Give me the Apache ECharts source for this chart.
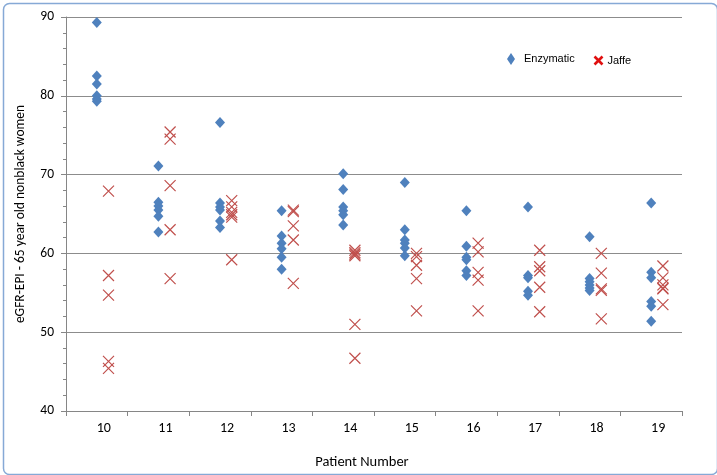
<!DOCTYPE html>
<html>
<head>
<meta charset="utf-8">
<script src="https://cdn.jsdelivr.net/npm/echarts@6/dist/echarts.min.js"></script>
<style>html,body{margin:0;padding:0;background:#fff;}#c{width:717px;height:475px;}</style>
</head>
<body>
<div id="c"></div>
<script>
const patients = ['10','11','12','13','14','15','16','17','18','19'];
const yTicks = [40, 50, 60, 70, 80, 90];
const enzymatic = [
  [89.3, 82.5, 81.5, 80.0, 79.6, 79.3],
  [71.1, 66.5, 66.0, 65.5, 64.7, 62.7],
  [76.6, 66.4, 65.9, 65.5, 64.1, 63.3],
  [65.4, 62.2, 61.3, 60.6, 59.5, 58.0],
  [70.1, 68.1, 65.9, 65.4, 64.9, 63.6],
  [69.0, 63.0, 61.7, 61.3, 60.7, 59.7],
  [65.4, 60.9, 59.5, 59.2, 57.8, 57.2],
  [65.9, 57.2, 56.9, 55.2, 54.7],
  [62.1, 56.8, 56.4, 56.0, 55.6, 55.3],
  [66.4, 57.6, 56.9, 53.9, 53.3, 51.4]
];
const jaffe = [
  [67.9, 57.2, 54.7, 46.3, 45.4],
  [75.4, 74.5, 68.6, 63.0, 56.8],
  [66.7, 65.9, 65.2, 64.9, 64.6, 59.2],
  [65.5, 65.3, 63.5, 61.7, 56.2],
  [60.4, 60.1, 59.9, 59.7, 51.0, 46.7],
  [60.0, 59.6, 58.5, 56.8, 52.7],
  [61.3, 60.2, 57.6, 56.6, 52.7],
  [60.4, 58.3, 57.8, 55.7, 52.6],
  [60.0, 57.5, 55.5, 55.3, 51.7],
  [58.4, 56.9, 56.0, 55.6, 55.5, 53.5]
];

const JAFFE_SHIFT = 0.19;
const enzData = enzymatic.flatMap((vals, i) => vals.map(v => [Number(patients[i]), v]));
const jafData = jaffe.flatMap((vals, i) => vals.map(v => [Number(patients[i]) + JAFFE_SHIFT, v]));
const xPath = 'path://M0,0L10,10M10,0L0,10';
const font = "Carlito, 'Liberation Sans', Arial, sans-serif";
const legendFont = {fontFamily: "'Liberation Sans', Arial, sans-serif", fontSize: 11, color: '#000'};

const chart = echarts.init(document.getElementById('c'), null, {renderer: 'canvas'});
chart.setOption({
  animation: false,
  backgroundColor: '#fff',
  textStyle: {fontFamily: font},
  graphic: [{
    type: 'rect', left: 1, top: 1, z: -10,
    shape: {width: 714, height: 471, r: 6},
    style: {fill: 'none', stroke: '#86A9D6', lineWidth: 1.5}
  }],
  grid: {left: 66, right: 35, top: 17, bottom: 62, containLabel: false},
  legend: [{
    left: 507, top: 53, padding: 0, itemWidth: 8, itemHeight: 12,
    textStyle: Object.assign({padding: [0, 0, 0, 4]}, legendFont),
    data: [{name: 'Enzymatic', icon: 'diamond'}]
  }, {
    left: 592, top: 54, padding: 0, itemWidth: 8, itemHeight: 10,
    textStyle: legendFont,
    data: [{name: 'Jaffe', icon: xPath, itemStyle: {color: 'none', borderColor: '#E01010', borderWidth: 2.6}}]
  }],
  xAxis: [{
    type: 'category', data: patients, boundaryGap: true,
    name: 'Patient Number', nameLocation: 'middle', nameGap: 44,
    nameTextStyle: {fontSize: 14.5, color: '#000', fontFamily: font, padding: [0, 24, 0, 0]},
    axisLine: {lineStyle: {color: '#868686', width: 1}},
    axisTick: {show: true, length: 5, alignWithLabel: false, lineStyle: {color: '#868686'}},
    axisLabel: {fontSize: 14, color: '#000', margin: 10, padding: [0, 0, 0, 14]},
    splitLine: {show: false}
  }, {
    type: 'value', min: 9.5, max: 19.5, show: false
  }],
  yAxis: {
    type: 'value', min: yTicks[0], max: yTicks[yTicks.length - 1], interval: 10,
    name: 'eGFR-EPI - 65 year old nonblack women', nameLocation: 'middle', nameGap: 38,
    nameTextStyle: {fontSize: 13.5, color: '#000', fontFamily: font},
    axisLine: {show: true, lineStyle: {color: '#868686', width: 1}},
    axisTick: {show: true, length: 5, lineStyle: {color: '#868686'}},
    minorTick: {show: true, splitNumber: 5, length: 3, lineStyle: {color: '#868686'}},
    axisLabel: {fontSize: 13.5, color: '#000', margin: 12},
    splitLine: {show: true, lineStyle: {color: '#8C8C8C', width: 1}}
  },
  series: [{
    name: 'Enzymatic', type: 'scatter', xAxisIndex: 1, data: enzData,
    symbol: 'diamond', symbolSize: [10, 11],
    itemStyle: {color: '#4F81BD', opacity: 1}
  }, {
    name: 'Jaffe', type: 'scatter', xAxisIndex: 1, data: jafData,
    symbol: xPath, symbolSize: 11,
    itemStyle: {color: 'none', borderColor: '#C0504D', borderWidth: 1.2, opacity: 1}
  }]
});
</script>
</body>
</html>
